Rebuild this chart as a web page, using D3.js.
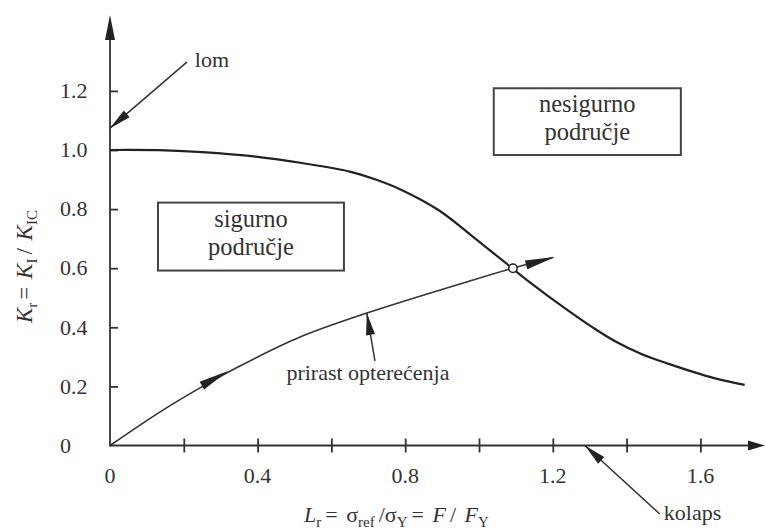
<!DOCTYPE html>
<html>
<head>
<meta charset="utf-8">
<script src="https://cdn.jsdelivr.net/npm/d3@7"></script>
<style>
  body { margin: 0; background: #fff; }
</style>
</head>
<body>
<svg id="chart"></svg>
<script>
const width = 766;
const height = 529;
const serif = "Liberation Serif";

// failure assessment curve (Lr, Kr)
const failureCurve = [[0, 1.0], [0.15, 0.999], [0.25, 0.993], [0.4, 0.977], [0.52, 0.956],
  [0.65, 0.927], [0.72, 0.9], [0.79, 0.865], [0.89, 0.797], [1.0, 0.69], [1.09, 0.60],
  [1.13, 0.56], [1.24, 0.458], [1.31, 0.398], [1.37, 0.352], [1.44, 0.31], [1.51, 0.278],
  [1.64, 0.227], [1.72, 0.205]];

// load path from origin through the intersection
const loadPath = [[0, 0], [0.136, 0.114], [0.244, 0.195], [0.352, 0.269], [0.515, 0.367],
  [0.696, 0.448], [0.984, 0.56], [1.092, 0.60], [1.2, 0.636]];

const crossing = [1.092, 0.60];

const xTicks = [0.2, 0.4, 0.6, 0.8, 1.0, 1.2, 1.4, 1.6];
const xLabels = ['0', '0.4', '0.8', '1.2', '1.6'];
const yTicks = [0.2, 0.4, 0.6, 0.8, 1.0, 1.2];
const yLabels = ['0', '0.2', '0.4', '0.6', '0.8', '1.0', '1.2'];

// arrows drawn along the load path
const pathArrows = [
  {from: [0.238, 0.195], to: [0.32, 0.252]},
  {from: [1.127, 0.611], to: [1.206, 0.638]}
];

// annotation pointers (text -> target)
const pointers = [
  {from: [0.209, 1.298], to: [0, 1.074]},
  {from: [1.49, -0.232], to: [1.287, 0]},
  {from: [0.718, 0.286], to: [0.696, 0.448]}
];

const notes = [
  {text: 'lom', at: [0.23, 1.28], anchor: 'start'},
  {text: 'kolaps', at: [1.501, -0.252], anchor: 'start'},
  {text: 'prirast opterećenja', at: [0.699, 0.222], anchor: 'middle'}
];

const regions = [
  {lines: ['sigurno', 'područje'], x0: 0.13, x1: 0.634, y0: 0.592, y1: 0.822},
  {lines: ['nesigurno', 'područje'], x0: 1.04, x1: 1.547, y0: 0.983, y1: 1.209}
];

const svg = d3.select('#chart')
  .attr('width', width)
  .attr('height', height);

const x = d3.scaleLinear().domain([0, 1.7]).range([110, 110 + 369 * 1.7]);
const y = d3.scaleLinear().domain([0, 1.2]).range([445.5, 445.5 - 295.5 * 1.2]);

function arrowHead(g, from, to, len, wid) {
  const x1 = x(from[0]), y1 = y(from[1]);
  const x2 = x(to[0]), y2 = y(to[1]);
  const a = Math.atan2(y2 - y1, x2 - x1);
  const bx = x2 - len * Math.cos(a), by = y2 - len * Math.sin(a);
  const nx = -Math.sin(a) * wid / 2, ny = Math.cos(a) * wid / 2;
  g.append('path')
    .attr('d', `M${x2},${y2}L${bx + nx},${by + ny}L${bx - nx},${by - ny}Z`)
    .attr('fill', '#222');
}

function label(sel) {
  return sel.attr('font-family', serif).attr('fill', '#333');
}

// axes
const xAxis = svg.append('g').attr('transform', `translate(0,${y(0)})`)
  .call(d3.axisBottom(x).tickValues(xTicks).tickSize(7).tickFormat(''));
xAxis.select('.domain').remove();
xAxis.selectAll('.tick line').attr('y1', -7).attr('stroke', '#333').attr('stroke-width', 1.8);

const yAxis = svg.append('g').attr('transform', `translate(${x(0)},0)`)
  .call(d3.axisLeft(y).tickValues(yTicks).tickSize(8).tickFormat(''));
yAxis.select('.domain').remove();
yAxis.selectAll('.tick line').attr('x2', 8).attr('stroke', '#333').attr('stroke-width', 1.8);

svg.selectAll('.xlab')
  .data(xLabels)
  .enter()
  .append('text')
  .call(label)
  .attr('x', d => x(+d))
  .attr('y', 483)
  .attr('text-anchor', 'middle')
  .attr('font-size', 22)
  .text(d => d);

svg.selectAll('.ylab')
  .data(yLabels)
  .enter()
  .append('text')
  .call(label)
  .attr('x', 60)
  .attr('y', d => y(+d))
  .attr('dy', '0.33em')
  .attr('font-size', 22)
  .text(d => d);

svg.append('line')
  .attr('x1', x(0)).attr('x2', 752)
  .attr('y1', y(0)).attr('y2', y(0))
  .attr('stroke', '#333').attr('stroke-width', 1.8);
svg.append('line')
  .attr('x1', x(0)).attr('x2', x(0))
  .attr('y1', y(0) + 1).attr('y2', 30)
  .attr('stroke', '#333').attr('stroke-width', 1.8);
svg.append('path')
  .attr('d', `M765,${y(0)}L748,${y(0) - 5}L748,${y(0) + 5}Z`).attr('fill', '#222');
svg.append('path')
  .attr('d', `M${x(0)},15L${x(0) - 5},40L${x(0) + 5},40Z`).attr('fill', '#222');

// axis titles
const xTitle = svg.append('text')
  .call(label)
  .attr('x', 304).attr('y', 522)
  .attr('font-size', 22);
xTitle.append('tspan').attr('font-style', 'italic').text('L');
xTitle.append('tspan').attr('dy', 5).attr('font-size', 15).text('r');
xTitle.append('tspan').attr('dy', -5).attr('dx', 4).text('= ');
xTitle.append('tspan').attr('dx', 3).text('σ');
xTitle.append('tspan').attr('dy', 5).attr('font-size', 15).text('ref');
xTitle.append('tspan').attr('dy', -5).attr('dx', 4).text('/σ');
xTitle.append('tspan').attr('dy', 5).attr('font-size', 15).text('Y');
xTitle.append('tspan').attr('dy', -5).attr('dx', 4).text('= ');
xTitle.append('tspan').attr('dx', 3).attr('font-style', 'italic').text('F');
xTitle.append('tspan').attr('dx', 4).text('/ ');
xTitle.append('tspan').attr('dx', 3).attr('font-style', 'italic').text('F');
xTitle.append('tspan').attr('dy', 5).attr('font-size', 15).text('Y');

const yTitle = svg.append('text')
  .call(label)
  .attr('transform', 'translate(32,323) rotate(-90)')
  .attr('font-size', 23);
yTitle.append('tspan').attr('font-style', 'italic').text('K');
yTitle.append('tspan').attr('dy', 5).attr('font-size', 15).text('r');
yTitle.append('tspan').attr('dy', -5).attr('dx', 3).text('= ');
yTitle.append('tspan').attr('dx', 2).attr('font-style', 'italic').text('K');
yTitle.append('tspan').attr('dy', 5).attr('font-size', 15).text('I');
yTitle.append('tspan').attr('dy', -5).attr('dx', 4).text('/ ');
yTitle.append('tspan').attr('dx', 2).attr('font-style', 'italic').text('K');
yTitle.append('tspan').attr('dy', 5).attr('font-size', 15).text('IC');

// region boxes
const box = svg.selectAll('.region')
  .data(regions)
  .enter()
  .append('g');
box.append('rect')
  .attr('x', d => x(d.x0))
  .attr('y', d => y(d.y1))
  .attr('width', d => x(d.x1) - x(d.x0))
  .attr('height', d => y(d.y0) - y(d.y1))
  .attr('fill', 'none')
  .attr('stroke', '#444')
  .attr('stroke-width', 2);
box.each(function(d) {
  const g = d3.select(this);
  d.lines.forEach((t, i) => {
    g.append('text')
      .call(label)
      .attr('x', (x(d.x0) + x(d.x1)) / 2)
      .attr('y', y(d.y1) + 24 + i * 28)
      .attr('text-anchor', 'middle')
      .attr('font-size', 24.5)
      .text(t);
  });
});

// curves
const line = d3.line().x(d => x(d[0])).y(d => y(d[1])).curve(d3.curveCatmullRom.alpha(0.5));

svg.append('path')
  .datum(failureCurve)
  .attr('d', line)
  .attr('fill', 'none')
  .attr('stroke', '#222')
  .attr('stroke-width', 2.2);

svg.append('path')
  .datum(loadPath)
  .attr('d', line)
  .attr('fill', 'none')
  .attr('stroke', '#333')
  .attr('stroke-width', 1.6);

pathArrows.forEach(a => arrowHead(svg, a.from, a.to, 30, 9));

pointers.forEach(p => {
  svg.append('line')
    .attr('x1', x(p.from[0])).attr('y1', y(p.from[1]))
    .attr('x2', x(p.to[0])).attr('y2', y(p.to[1]))
    .attr('stroke', '#333').attr('stroke-width', 1.5);
  arrowHead(svg, p.from, p.to, 22, 9);
});

svg.append('circle')
  .attr('cx', x(crossing[0]))
  .attr('cy', y(crossing[1]))
  .attr('r', 4.2)
  .attr('fill', '#fff')
  .attr('stroke', '#222')
  .attr('stroke-width', 1.5);

svg.selectAll('.note')
  .data(notes)
  .enter()
  .append('text')
  .call(label)
  .attr('x', d => x(d.at[0]))
  .attr('y', d => y(d.at[1]))
  .attr('text-anchor', d => d.anchor)
  .attr('font-size', 22)
  .text(d => d.text);
</script>
</body>
</html>
